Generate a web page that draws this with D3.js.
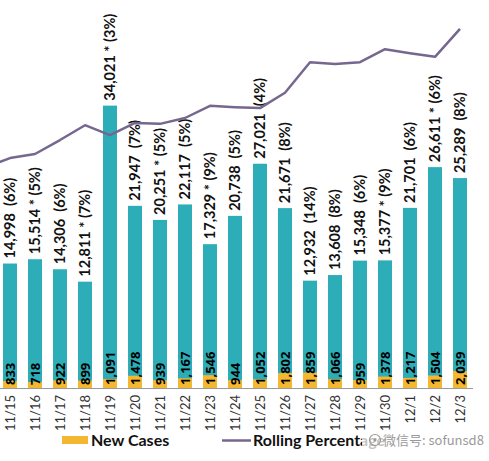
<!DOCTYPE html>
<html><head><meta charset="utf-8">
<script src="https://cdn.jsdelivr.net/npm/d3@7"></script>
<style>
html,body{margin:0;padding:0;background:#fff;overflow:hidden;}
svg{display:block;}
</style></head>
<body>
<svg id="chart" width="489" height="461"></svg>
<script>
const dates = ["11/15","11/16","11/17","11/18","11/19","11/20","11/21","11/22","11/23","11/24","11/25","11/26","11/27","11/28","11/29","11/30","12/1","12/2","12/3"];
const totalTests = [14998,15514,14306,12811,34021,21947,20251,22117,17329,20738,27021,21671,12932,13608,15348,15377,21701,26611,25289];
const starred = [false,true,false,true,true,false,true,false,true,false,false,false,false,false,false,true,false,true,false];
const dailyPct = [6,5,6,7,3,7,5,5,9,5,4,8,14,8,6,9,6,6,8];
const newCases = [833,718,922,899,1091,1478,939,1167,1546,944,1052,1802,1859,1066,959,1378,1217,1504,2039];
// rolling percentage (first value is the day before 11/15, partly off-canvas)
const rollingDates = ["11/14"].concat(dates);
const rollingPct = [4.9,5.11,5.2,5.51,5.84,5.62,5.89,5.87,6.0,6.27,6.24,6.22,6.56,7.24,7.2,7.24,7.53,7.44,7.36,7.98];
const legendLabels = ["New Cases","Rolling Percentage"];

const teal = "#2cadb7", yellow = "#f4b731", purple = "#76678f";
const svg = d3.select("#chart");
const baseY = 388;

const x = d3.scaleBand().domain(dates).range([-2.5, 472.5]).paddingInner(0.44).paddingOuter(0.22);
const y = d3.scaleLinear().domain([0, 40000]).range([baseY, 56]);
const y2 = d3.scaleLinear().domain([0, 10]).range([baseY, -62]);
const step = x.step();
const cx = d => {
  const i = dates.indexOf(d);
  return i >= 0 ? x(d) + x.bandwidth()/2 : x(dates[0]) + x.bandwidth()/2 - step;
};

// teal bars
svg.append("g").selectAll("rect").data(dates).join("rect")
  .attr("x", d => x(d)).attr("width", x.bandwidth())
  .attr("y", (d,i) => y(totalTests[i])).attr("height", (d,i) => baseY - y(totalTests[i]))
  .attr("fill", teal);

// yellow bars
svg.append("g").selectAll("rect").data(dates).join("rect")
  .attr("x", d => x(d)).attr("width", x.bandwidth())
  .attr("y", (d,i) => y(newCases[i])).attr("height", (d,i) => baseY - y(newCases[i]))
  .attr("fill", yellow);

// baseline
svg.append("line").attr("x1", 0).attr("x2", 473).attr("y1", baseY + 0.5).attr("y2", baseY + 0.5)
  .attr("stroke", "#9a9a9a").attr("stroke-width", 1);

// top labels
const fmt = d3.format(",");
svg.append("g").selectAll("text").data(dates).join("text")
  .attr("transform", (d,i) => `translate(${cx(d)},${y(totalTests[i]) - 5}) rotate(-90)`)
  .attr("dy", "0.36em")
  .attr("text-anchor", "start")
  .style("white-space", "pre")
  .attr("font-family", "Lato, 'Open Sans', sans-serif")
  .attr("font-weight", "bold").attr("font-size", 14.5)
  .style("fill", "#111")
  .text((d,i) => fmt(totalTests[i]) + (starred[i] ? " * " : "  ") + "(" + dailyPct[i] + "%)");

// new case labels
svg.append("g").selectAll("text").data(dates).join("text")
  .attr("transform", d => `translate(${cx(d)},${baseY - 3}) rotate(-90)`)
  .attr("dy", "0.36em")
  .attr("text-anchor", "start")
  .attr("font-family", "'Open Sans', sans-serif")
  .attr("font-weight", "bold").attr("font-size", 13)
  .style("fill", "#000000")
  .text((d,i) => fmt(newCases[i]));

// x axis labels
svg.append("g").selectAll("text").data(dates).join("text")
  .attr("transform", d => `translate(${cx(d)},${baseY + 7}) rotate(-90)`)
  .attr("dy", "0.36em")
  .attr("text-anchor", "end")
  .attr("font-family", "Lato, 'Open Sans', sans-serif")
  .attr("font-size", 13)
  .style("fill", "#333")
  .text(d => d);

// rolling line
const line = d3.line().x(d => cx(d.date)).y(d => y2(d.v));
svg.append("path")
  .datum(rollingDates.map((d,i) => ({date: d, v: rollingPct[i]})))
  .attr("d", line).attr("fill", "none").attr("stroke", purple).attr("stroke-width", 2.5)
  .attr("stroke-linejoin", "round");

// legend
const lg = svg.append("g").attr("font-family", "Lato, 'Open Sans', sans-serif").attr("font-weight", "bold").attr("font-size", 16).style("fill", "#111");
lg.append("rect").attr("x", 62).attr("y", 436).attr("width", 26).attr("height", 8).style("fill", yellow);
lg.append("text").attr("x", 91).attr("y", 446).text(legendLabels[0]);
lg.append("line").attr("x1", 222).attr("x2", 251).attr("y1", 440.5).attr("y2", 440.5).attr("stroke", purple).attr("stroke-width", 2.5);
lg.append("text").attr("x", 253).attr("y", 446).text(legendLabels[1]);

// watermark
const wm = svg.append("g");
wm.append("rect").attr("x", 362).attr("y", 430).attr("width", 127).attr("height", 20).attr("fill", "#fff").attr("opacity", 0.75);
wm.append("circle").attr("cx", 375).attr("cy", 440).attr("r", 5.5).attr("fill", "none").attr("stroke", "#9a9a9a").attr("stroke-width", 1.2);
wm.append("circle").attr("cx", 375).attr("cy", 440).attr("r", 1.5).attr("fill", "#9a9a9a");
wm.append("text").attr("x", 383).attr("y", 445).attr("font-family", "'Noto Sans CJK SC', sans-serif")
  .attr("font-size", 13).style("fill", "#9a9a9a").text("微信号: sofunsd8");
</script>
</body></html>
